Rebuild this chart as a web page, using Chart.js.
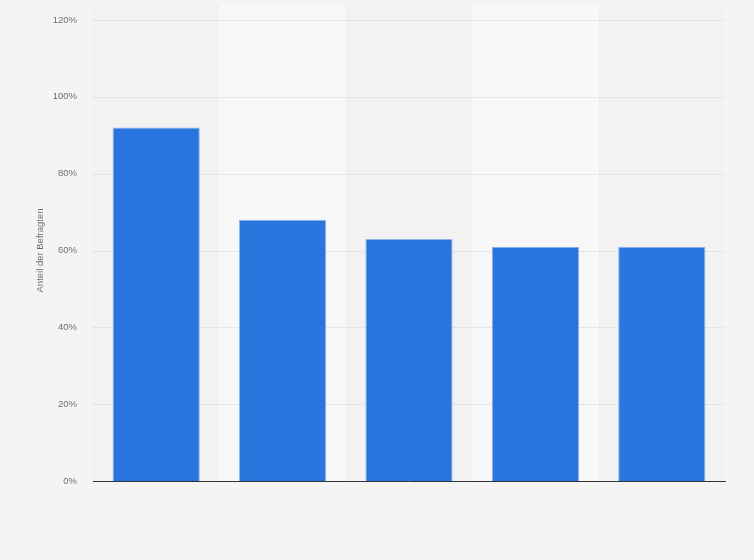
<!DOCTYPE html>
<html>
<head>
<meta charset="utf-8">
<script src="https://cdn.jsdelivr.net/npm/chart.js@4"></script>
<style>
html,body{margin:0;padding:0;background:#f4f4f4;}
#wrap{width:754px;height:560px;position:relative;}
</style>
</head>
<body>
<div id="wrap"><canvas id="c" width="754" height="560"></canvas></div>
<script>
const categories = ["", "", "", "", ""];
const values = [92, 68, 63, 61, 61];
const yTicks = [0, 20, 40, 60, 80, 100, 120];
const yTitle = "Anteil der Befragten";

const bandPlugin = {
  id: 'bands',
  beforeDatasetsDraw(chart) {
    const {ctx, chartArea, scales} = chart;
    const x = scales.x;
    const w = (chartArea.right - chartArea.left) / categories.length;
    ctx.save();
    categories.forEach((c, i) => {
      const cx = x.getPixelForValue(i);
      ctx.fillStyle = (i % 2 === 1) ? '#f8f8f8' : '#f2f2f2';
      ctx.fillRect(cx - w / 2, chartArea.top - 15, w, chartArea.bottom - chartArea.top + 15);
    });
    const y = scales.y;
    ctx.strokeStyle = '#d6d6d6';
    ctx.lineWidth = 1;
    ctx.setLineDash([1, 1]);
    yTicks.forEach(t => {
      if (t === 0) return;
      const py = Math.round(y.getPixelForValue(t)) + 0.5;
      ctx.beginPath();
      ctx.moveTo(chartArea.left, py);
      ctx.lineTo(chartArea.right, py);
      ctx.stroke();
    });
    ctx.restore();
  }
};

new Chart(document.getElementById('c'), {
  type: 'bar',
  data: {
    labels: categories,
    datasets: [{
      data: values,
      backgroundColor: '#2876dd',
      borderColor: '#8fb6ec',
      borderWidth: 1,
      categoryPercentage: 0.69,
      barPercentage: 1.0
    }]
  },
  options: {
    responsive: false,
    animation: false,
    devicePixelRatio: 1,
    layout: { padding: { left: 0, right: 29, top: 20, bottom: 79 } },
    plugins: { legend: { display: false }, tooltip: { enabled: false } },
    scales: {
      x: {
        grid: { display: false, drawTicks: false },
        border: { display: true, color: '#333333', width: 1 },
        ticks: { display: false },
        afterFit(s) { s.height = 0; }
      },
      y: {
        min: 0, max: 120,
        afterBuildTicks(s) { s.ticks = yTicks.map(v => ({ value: v })); },
        afterFit(s) { s.width = 93; s.paddingTop = 0; s.paddingBottom = 0; },
        grid: { display: false, drawTicks: false },
        border: { display: false },
        ticks: {
          padding: 16,
          color: '#707070',
          font: { family: 'Liberation Sans, Arial, sans-serif', size: 9.5 },
          callback: v => v + '%'
        },
        title: {
          display: true,
          text: yTitle,
          color: '#707070',
          font: { family: 'Liberation Sans, Arial, sans-serif', size: 9.5 },
          padding: { top: 35, bottom: 0 }
        }
      }
    }
  },
  plugins: [bandPlugin]
});
</script>
</body>
</html>
